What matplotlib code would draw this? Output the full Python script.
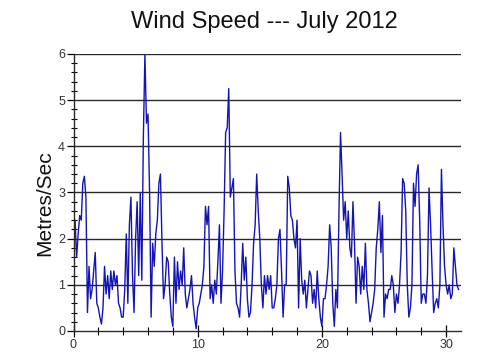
import numpy as np
import matplotlib
matplotlib.use("Agg")
import matplotlib.pyplot as plt
from matplotlib.ticker import MultipleLocator

# wind speed, m/s, read every 3 hours (8 per day) from 1 to 31 July
speed = [
    1.7, 2.4, 1.6, 2.1, 2.5, 2.4, 3.2, 3.35,      # day 0
    2.9, 0.4, 1.4, 0.7, 0.9, 1.3, 1.7, 0.6,       # day 1
    0.5, 0.3, 0.15, 0.5, 1.4, 0.8, 1.2, 0.7,      # day 2
    1.3, 0.9, 1.3, 1.0, 1.2, 0.6, 0.5, 0.3,       # day 3
    0.3, 0.9, 2.1, 0.6, 2.3, 2.9, 1.2, 0.4,       # day 4
    2.0, 2.8, 1.2, 3.0, 1.1, 4.2, 6.0, 4.5,       # day 5
    4.7, 3.0, 0.3, 1.9, 1.4, 2.1, 2.4, 3.2,       # day 6
    3.4, 1.9, 0.7, 1.0, 1.6, 1.5, 0.8, 0.3,       # day 7
    0.1, 1.6, 0.6, 1.5, 0.9, 1.3, 1.0, 1.8,       # day 8
    0.8, 0.5, 0.7, 0.9, 1.2, 0.6, 0.3, 0.05,      # day 9
    0.5, 0.6, 0.8, 1.0, 1.4, 2.7, 2.3, 2.7,       # day 10
    0.7, 1.0, 0.6, 1.1, 0.8, 1.5, 2.3, 0.6,       # day 11
    1.3, 2.6, 4.3, 4.4, 5.25, 2.9, 3.1, 3.3,      # day 12
    1.3, 0.6, 0.5, 0.3, 1.0, 1.9, 1.1, 1.6,       # day 13
    0.7, 0.3, 0.4, 1.0, 1.9, 2.3, 3.4, 2.6,       # day 14
    2.0, 1.0, 0.5, 1.2, 0.8, 1.2, 0.9, 1.2,       # day 15
    0.5, 0.5, 0.7, 1.0, 2.0, 2.2, 1.3, 0.3,       # day 16
    1.0, 1.0, 3.35, 3.1, 2.5, 2.4, 2.0, 1.8,      # day 17
    2.4, 0.5, 2.0, 1.1, 0.8, 1.1, 0.5, 0.9,       # day 18
    1.3, 1.2, 0.6, 0.9, 0.5, 1.3, 0.7, 0.3,       # day 19
    0.1, 0.7, 0.7, 1.0, 1.4, 2.3, 1.8, 0.6,       # day 20
    0.1, 0.9, 0.5, 2.6, 4.3, 3.4, 2.4, 2.8,       # day 21
    2.0, 2.6, 1.8, 1.6, 2.8, 1.9, 0.6, 1.6,       # day 22
    1.4, 0.8, 1.4, 0.9, 1.9, 0.9, 0.6, 0.2,       # day 23
    0.4, 0.6, 0.9, 1.8, 2.2, 2.8, 1.7, 2.5,       # day 24
    0.3, 0.8, 0.7, 0.9, 0.9, 1.2, 1.0, 0.4,       # day 25
    0.8, 0.6, 1.0, 1.7, 3.3, 3.2, 2.6, 1.0,       # day 26
    0.3, 0.5, 1.0, 3.2, 2.7, 3.4, 3.6, 2.4,       # day 27
    0.6, 0.8, 0.8, 0.6, 1.2, 3.1, 2.3, 1.3,       # day 28
    0.4, 0.6, 0.7, 0.5, 1.0, 3.5, 2.3, 1.4,       # day 29
    1.0, 0.8, 1.0, 0.7, 0.8, 1.8, 1.4, 1.0,       # day 30
    0.9,
]
readings_per_day = 8
day_ticks = [0, 10, 20, 30]
speed_ticks = [0, 1, 2, 3, 4, 5, 6]

days = np.arange(len(speed)) / readings_per_day

plt.rcParams["font.family"] = ["Liberation Sans", "DejaVu Sans"]

fig = plt.figure(figsize=(5.0, 3.64), dpi=100)
ax = fig.add_axes([0.147, 0.0907, 0.775, 0.761])

for v in speed_ticks[1:]:
    ax.axhline(v, color="#2a2a2a", lw=1.0, zorder=1)

ax.plot(days, speed, color="#1414b4", lw=1.0, zorder=2)

ax.set_xlim(0, 31.2)
ax.set_ylim(0, 6)
ax.set_xticks(day_ticks)
ax.set_yticks(speed_ticks)
ax.xaxis.set_minor_locator(MultipleLocator(2))
ax.yaxis.set_minor_locator(MultipleLocator(0.2))

ax.tick_params(axis="y", which="major", direction="out", length=5,
               width=0.9, labelsize=9, labelcolor="#333333", pad=1)
ax.tick_params(axis="y", which="minor", direction="inout", length=5, width=0.8)
ax.tick_params(axis="x", which="major", direction="inout", length=9,
               width=0.9, labelsize=9, labelcolor="#333333", pad=1)
ax.tick_params(axis="x", which="minor", direction="inout", length=6, width=0.8)

for s in ["top", "right"]:
    ax.spines[s].set_visible(False)
for s in ["left", "bottom"]:
    ax.spines[s].set_color("#2a2a2a")
    ax.spines[s].set_linewidth(1.0)

fig.text(0.528, 0.94, "Wind Speed --- July 2012", ha="center", va="center",
         fontsize=17, color="#111111")
fig.text(0.09, 0.441, "Metres/Sec", ha="center", va="center",
         rotation=90, fontsize=15, color="#111111")

fig.savefig("out.png", dpi=100, facecolor="white")
